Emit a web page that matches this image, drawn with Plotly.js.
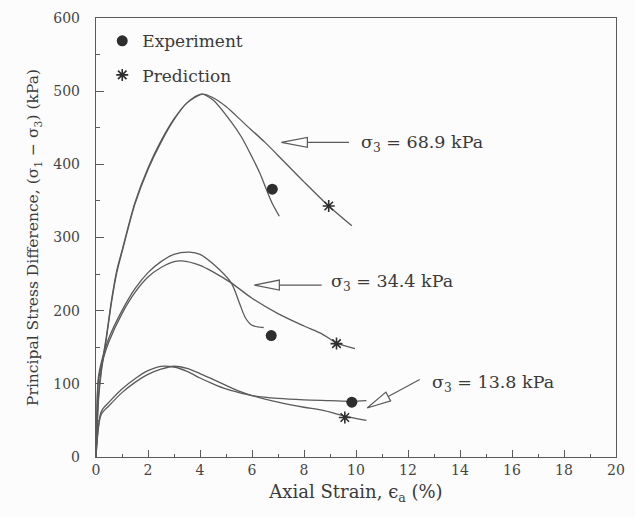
<!DOCTYPE html>
<html><head><meta charset="utf-8">
<script src="https://cdn.plot.ly/plotly-3.0.1.min.js"></script>
<style>html,body{margin:0;padding:0;background:#fff}#chart{width:635px;height:517px}</style>
</head><body><div id="chart"></div>
<script>
// sigma3 = 68.9 kPa
const exp69_x = [0, 0.1, 0.2, 0.4, 0.6, 0.8, 1.0, 1.5, 2.0, 2.5, 3.0, 3.5, 4.05, 4.5, 5.2, 5.6, 6.0, 6.3, 6.55, 6.8, 7.05];
const exp69_y = [0, 85, 120, 165, 215, 255, 282, 348, 395, 432, 462, 484, 496, 488, 458, 437, 410, 388, 366, 345, 329];
const pred69_x = [0, 0.1, 0.2, 0.4, 0.6, 0.8, 1.0, 1.5, 2.0, 2.5, 3.0, 3.5, 4.1, 4.5, 5.0, 5.7, 6.5, 7.2, 8.0, 8.95, 9.84];
const pred69_y = [0, 80, 115, 162, 212, 252, 280, 346, 393, 430, 461, 484, 496, 491, 479, 456, 430, 405, 376, 343, 316];
// sigma3 = 34.4 kPa
const exp34_x = [0, 0.08, 0.15, 0.3, 0.5, 1.0, 1.5, 2.0, 2.5, 3.0, 3.6, 4.0, 4.5, 5.2, 5.5, 5.75, 6.0, 6.45];
const exp34_y = [0, 105, 121, 142, 163, 200, 230, 252, 267, 277, 280, 277, 264, 238, 212, 190, 180, 177];
const pred34_x = [0, 0.08, 0.15, 0.3, 0.5, 1.0, 1.5, 2.0, 2.5, 3.0, 3.3, 4.0, 4.5, 5.2, 6.0, 7.0, 8.0, 8.7, 9.25, 9.96];
const pred34_y = [0, 100, 116, 137, 158, 196, 225, 246, 259, 267, 268, 262, 253, 238, 217, 196, 179, 168, 156, 148];
// sigma3 = 13.8 kPa
const exp14_x = [0, 0.2, 0.5, 1.0, 1.5, 2.0, 2.5, 3.0, 3.5, 4.0, 4.5, 5.0, 5.5, 6.0, 7.0, 8.0, 9.0, 9.84, 10.4];
const exp14_y = [0, 62, 75, 93, 107, 118, 124, 123, 117, 108, 100, 93, 88, 84, 80, 78, 77, 76, 77];
const pred14_x = [0, 0.2, 0.5, 1.0, 1.5, 2.0, 2.5, 3.0, 3.5, 4.0, 4.5, 5.0, 5.5, 6.0, 7.0, 8.0, 8.7, 9.57, 10.4];
const pred14_y = [0, 58, 70, 88, 102, 113, 120, 124, 121, 114, 106, 98, 90, 84, 75, 68, 64, 56, 50];
// marked points
const expPts_x = [6.78, 6.74, 9.84];
const expPts_y = [366, 166, 75];
const predPts_x = [8.95, 9.25, 9.57];
const predPts_y = [343, 155, 54];
// labels
const labels = ["σ<sub>3</sub> = 68.9 kPa", "σ<sub>3</sub> = 34.4 kPa", "σ<sub>3</sub> = 13.8 kPa"];
const xTicks = [0, 2, 4, 6, 8, 10, 12, 14, 16, 18, 20];
const yTicks = [0, 100, 200, 300, 400, 500, 600];

const LC = '#5a5a5a';
const FONT = 'DejaVu Serif, Liberation Serif, serif';
function curve(x, y) {
  return {x: x, y: y, mode: 'lines', type: 'scatter', showlegend: false, hoverinfo: 'skip',
    line: {color: LC, width: 1.3, shape: 'spline', smoothing: 0.8}};
}
const traces = [
  curve(exp69_x, exp69_y), curve(pred69_x, pred69_y),
  curve(exp34_x, exp34_y), curve(pred34_x, pred34_y),
  curve(exp14_x, exp14_y), curve(pred14_x, pred14_y),
  {x: expPts_x, y: expPts_y, mode: 'markers', type: 'scatter', name: 'Experiment', legendgroup: 'a',
    marker: {symbol: 'circle', size: 11, color: '#2e2e2e'}},
  {x: predPts_x, y: predPts_y, mode: 'markers', type: 'scatter', name: 'Prediction', legendgroup: 'b',
    marker: {symbol: 'asterisk-open', size: 10, color: '#2e2e2e', line: {color: '#2e2e2e', width: 1.6}}}
];

// plot geometry (pixels per data unit)
const M = {l: 96, r: 19, t: 18, b: 60};
const PW = 635 - M.l - M.r, PH = 517 - M.t - M.b;
const sx = PW / 20, sy = PH / 600;
function arrowShapes(tipX, tipY, tailX, tailY, headLen, halfW) {
  const dxp = (tailX - tipX) * sx, dyp = (tailY - tipY) * sy;
  const L = Math.hypot(dxp, dyp);
  const ux = dxp / L, uy = dyp / L;
  const bx = ux * headLen, by = uy * headLen;
  const px = -uy * halfW, py = ux * halfW;
  const P = (ox, oy) => (tipX + ox / sx) + ',' + (tipY + oy / sy);
  return [
    {type: 'path', xref: 'x', yref: 'y', path: 'M' + P(0, 0) + ' L' + P(bx + px, by + py) + ' L' + P(bx - px, by - py) + ' Z',
      line: {color: LC, width: 1.2}, fillcolor: 'rgba(255,255,255,0)'},
    {type: 'line', xref: 'x', yref: 'y', x0: tipX + bx / sx, y0: tipY + by / sy, x1: tailX, y1: tailY,
      line: {color: LC, width: 1.2}}
  ];
}
const shapes = [].concat(
  arrowShapes(7.13, 430, 9.73, 430, 26, 5),
  arrowShapes(6.09, 235, 8.68, 235, 25, 5),
  arrowShapes(10.43, 67, 12.45, 106, 24, 5)
);
const annFont = {family: FONT, size: 17.5, color: '#3a3a3a'};
const annotations = [
  {x: 10.1, y: 428, xref: 'x', yref: 'y', text: labels[0], showarrow: false, xanchor: 'left', font: annFont},
  {x: 8.95, y: 238, xref: 'x', yref: 'y', text: labels[1], showarrow: false, xanchor: 'left', font: annFont},
  {x: 12.85, y: 100, xref: 'x', yref: 'y', text: labels[2], showarrow: false, xanchor: 'left', font: annFont}
];

const axFont = {family: FONT, size: 14, color: '#444'};
const layout = {
  width: 635, height: 517,
  margin: M,
  paper_bgcolor: '#fcfcfc', plot_bgcolor: '#fcfcfc',
  font: {family: FONT, color: '#444'},
  showlegend: true,
  legend: {x: 0.012, y: 0.988, xanchor: 'left', yanchor: 'top', bgcolor: 'rgba(0,0,0,0)',
    font: {family: FONT, size: 17, color: '#3a3a3a'}, traceorder: 'grouped', tracegroupgap: 9, itemwidth: 30},
  xaxis: {range: [0, 20], tickvals: xTicks, ticktext: xTicks.map(String), ticks: 'inside', ticklen: 7,
    tickcolor: LC, tickwidth: 1, showline: true, linecolor: LC, linewidth: 1.2, mirror: true,
    showgrid: false, zeroline: false, tickfont: axFont, ticklabelstandoff: 0,
    minor: {dtick: 1, tick0: 1, ticks: 'inside', ticklen: 3, tickcolor: LC, showgrid: false},
    title: {text: 'Axial Strain, ϵ<sub>a</sub> (%)', font: {family: FONT, size: 18, color: '#3a3a3a'}, standoff: 8}},
  yaxis: {range: [0, 600], tickvals: yTicks, ticktext: yTicks.map(String), ticks: 'inside', ticklen: 8,
    tickcolor: LC, tickwidth: 1, showline: true, linecolor: LC, linewidth: 1.2, mirror: true,
    showgrid: false, zeroline: false, tickfont: axFont, ticklabelstandoff: 12,
    minor: {dtick: 50, tick0: 50, ticks: 'inside', ticklen: 4, tickcolor: LC, showgrid: false},
    title: {text: 'Principal Stress Difference, (σ<sub>1</sub> − σ<sub>3</sub>) (kPa)', font: {family: FONT, size: 15.5, color: '#3a3a3a'}, standoff: 10}},
  shapes: shapes,
  annotations: annotations
};
Plotly.newPlot('chart', traces, layout, {staticPlot: true, displayModeBar: false});
</script></body></html>
